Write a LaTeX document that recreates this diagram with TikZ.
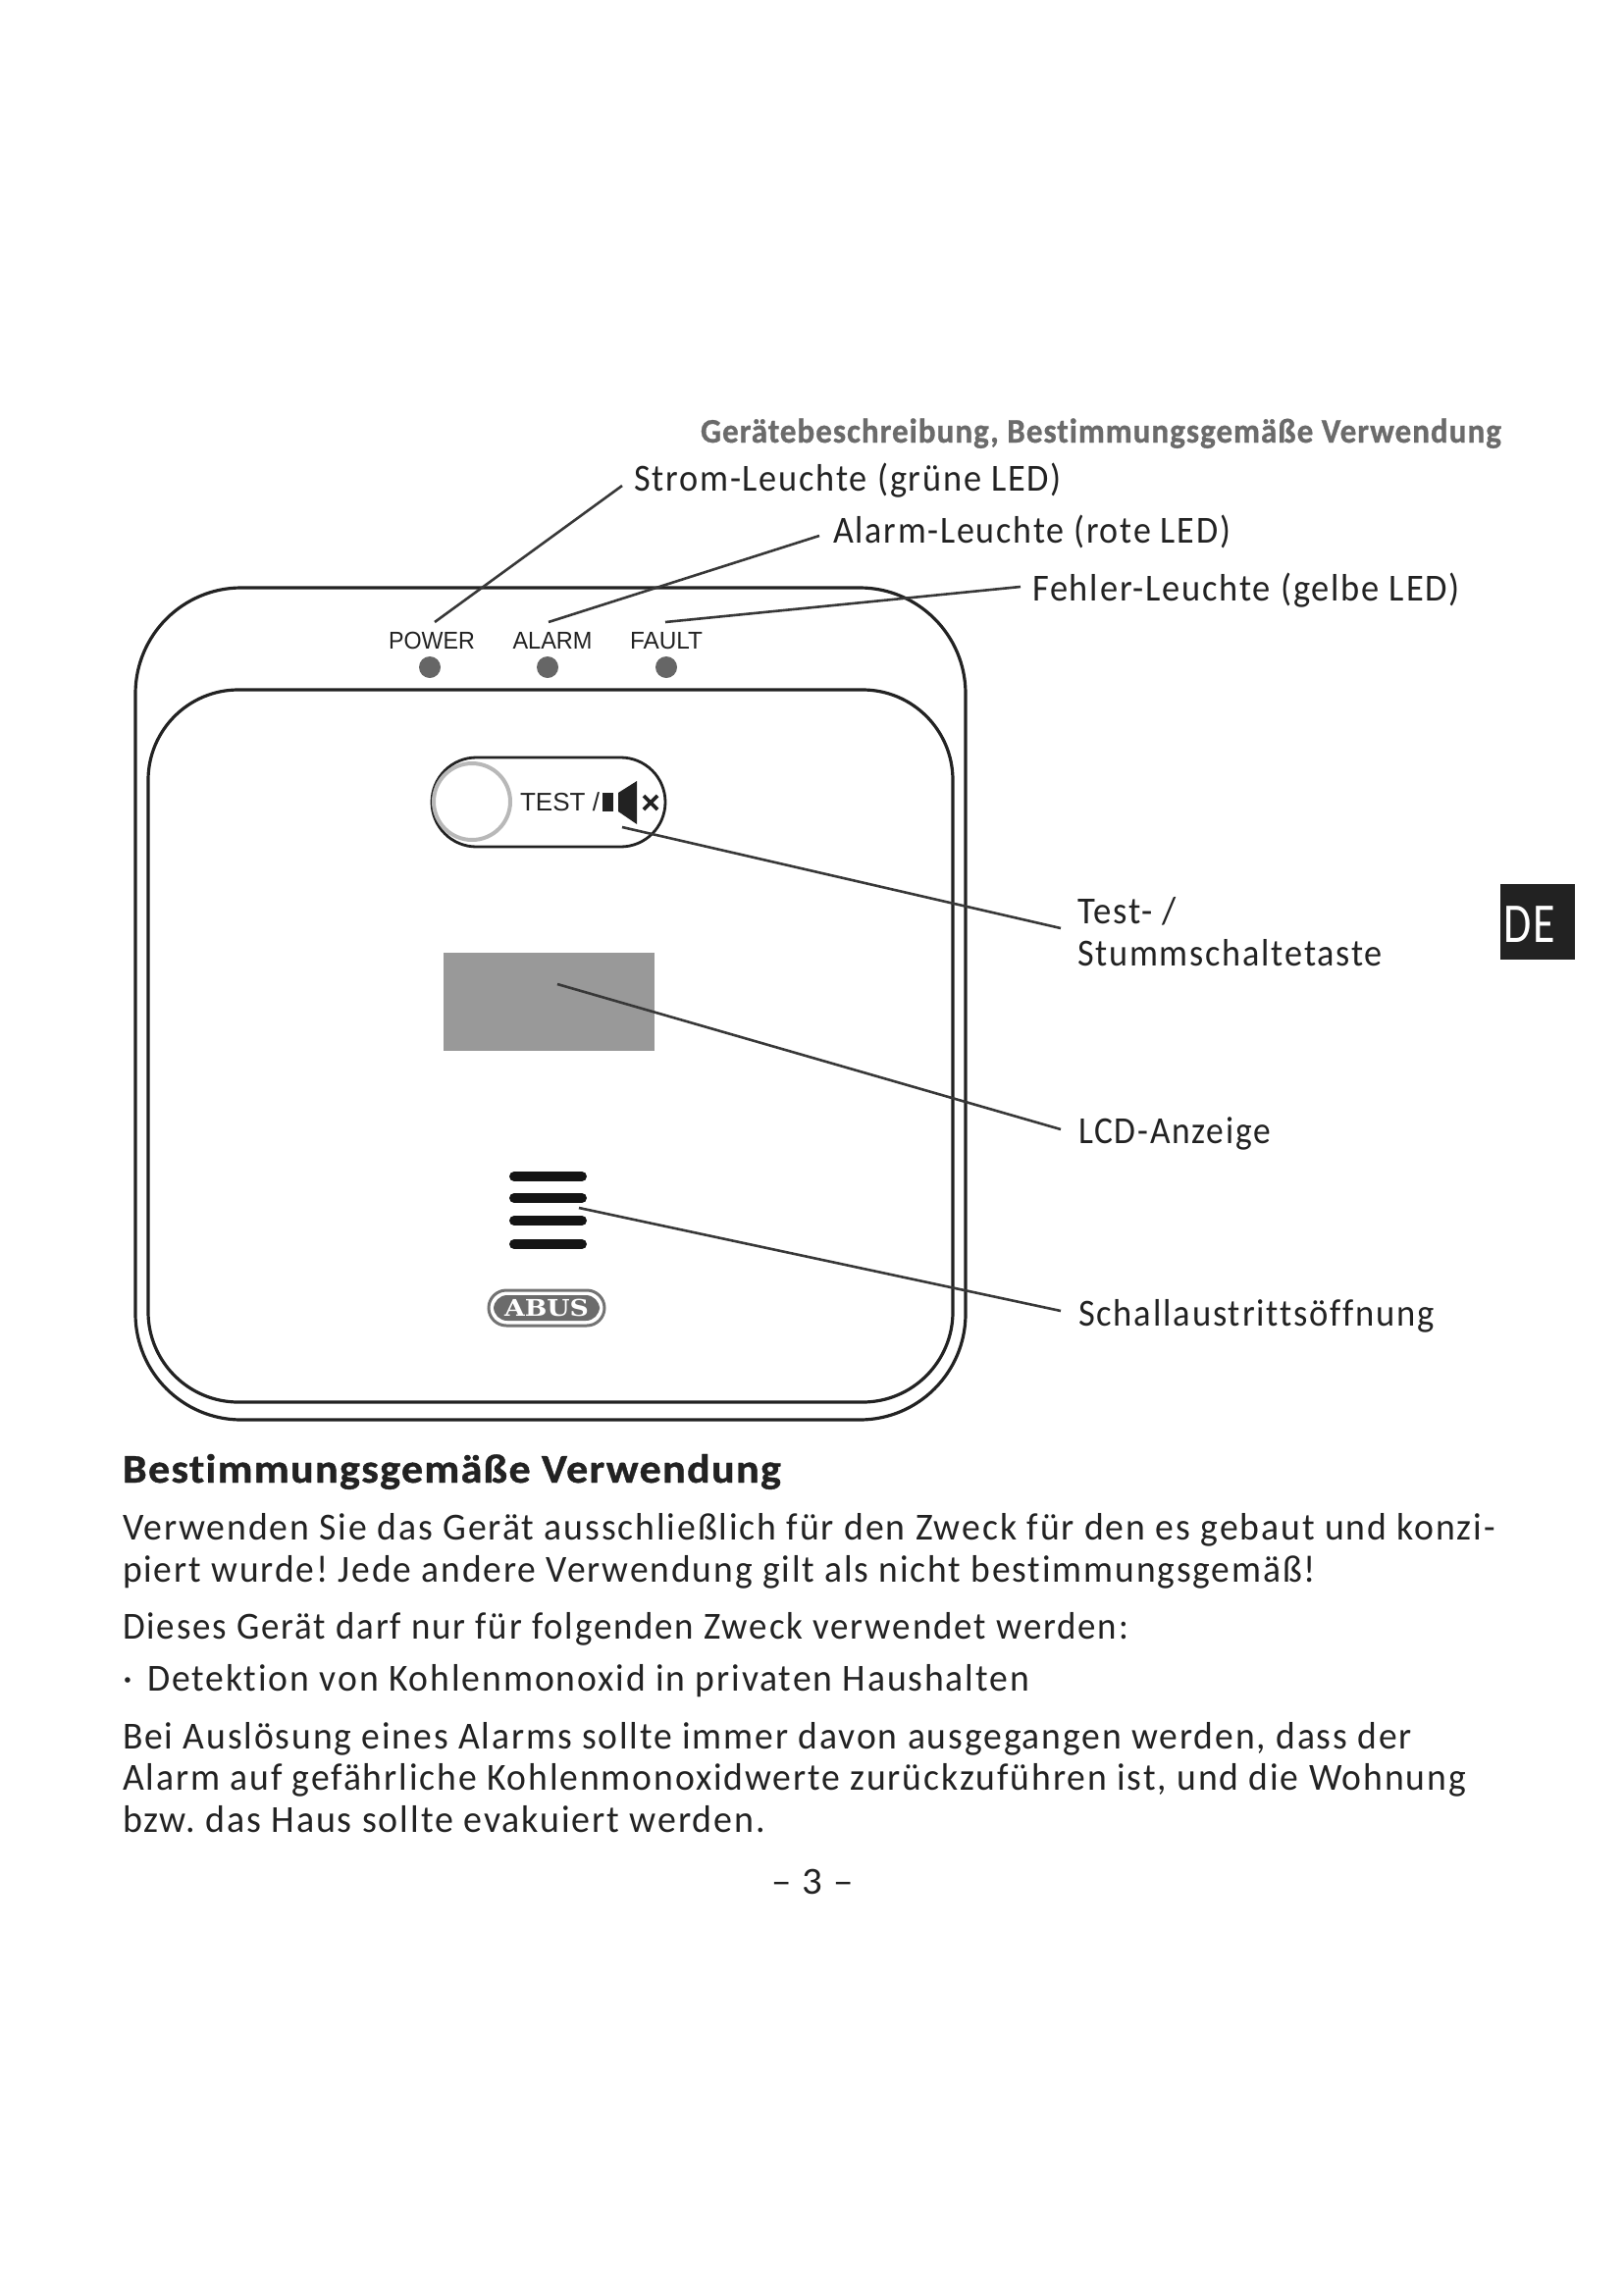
\documentclass[tikz,border=0pt]{standalone}
\usepackage{graphicx}
\usepackage{fontspec}
\setmainfont[LetterSpace=5,Ligatures=NoCommon,BoldFeatures={LetterSpace=3,FakeBold=0.9}]{Carlito}
\newfontfamily\arialf{Liberation Sans}
\newfontfamily\logof{DejaVu Serif}
\usetikzlibrary{calc}
\frenchspacing
\newsavebox\fitbx
% #1 = target width in reference pixels, #2 = text
\newcommand\fitw[2]{\sbox\fitbx{#2}\pgfmathsetmacro\fitr{#1*0.5/\wd\fitbx}\scalebox{\fitr}[1]{\usebox\fitbx}}
\definecolor{ink}{HTML}{222222}
\tikzset{
  x=0.5pt,y=-0.5pt,
  txt/.style={anchor=base west,inner sep=0,outer sep=0,text=ink,font=\fontsize{19.5}{22}\selectfont},
  head/.style={txt,font=\fontsize{20.7}{24}\selectfont\bfseries},
  hdr/.style={txt,text=black!58,font=\fontsize{17.5}{20}\selectfont\bfseries},
  dev/.style={anchor=center,inner sep=0,outer sep=0,text=ink,font=\arialf\fontsize{12.4}{14}\selectfont},
  case/.style={draw=ink,line width=1.6pt},
  leader/.style={draw=ink!90,line width=1.3pt},
  led/.style={circle,fill=black!60,draw=none,minimum size=11pt,inner sep=0},
  bar/.style={draw=black!92,line width=5pt,line cap=round},
}
\begin{document}
\begin{tikzpicture}
\useasboundingbox (0,0) rectangle (1654,2339);
% housing
\draw[case,rounded corners=54pt] (138,599) rectangle (984,1447);
\draw[case,rounded corners=46pt] (151,703) rectangle (971,1429);
% LEDs
\node[dev] (lpower) at (440,653) {\fitw{88}{POWER}};
\node[dev] (lalarm) at (563,653) {\fitw{81}{ALARM}};
\node[dev] (lfault) at (679,653) {\fitw{74}{FAULT}};
\node[led] (power) at (438,680) {};
\node[led] (alarm) at (558,680) {};
\node[led] (fault) at (679,680) {};
% test button
\draw[draw=ink,line width=1.4pt,rounded corners=22.75pt] (440,772) rectangle (678,863);
\node[circle,draw=black!28,line width=2pt,minimum size=39pt,inner sep=0] (btn) at (481,817) {};
\node[dev,anchor=base west,font=\arialf\fontsize{13}{14}\selectfont] (testl) at (530,826) {\fitw{81}{TEST /}};
\fill[ink] (614,808) rectangle (625,827);
\fill[ink] (630,808) -- (649,796) -- (649,840) -- (630,827) -- cycle;
\draw[ink,line width=1.9pt] (656,811) -- (670,825) (670,811) -- (656,825);
% LCD
\node[fill=black!40,draw=none,minimum width=107.5pt,minimum height=50pt,inner sep=0] (lcd) at (559.5,1020.5) {};
% sound opening
\draw[bar] (524,1199) -- (593,1199);
\draw[bar] (524,1221) -- (593,1221);
\draw[bar] (524,1244) -- (593,1244);
\draw[bar] (524,1268) -- (593,1268);
% logo
\draw[draw=black!55,line width=1.5pt,rounded corners=9pt] (498,1315) rectangle (616,1351);
\fill[black!58,rounded corners=7pt] (503,1320) rectangle (611,1346);
\node[inner sep=0,text=white,font=\logof\fontsize{11.7}{12}\selectfont\bfseries] (abus) at (557,1333) {\fitw{86}{ABUS}};
% callout labels
\node[hdr] (hdr) at (714,451) {\fitw{816}{Gerätebeschreibung, Bestimmungsgemäße Verwendung}};
\node[txt] (ts) at (646,500) {\fitw{436}{Strom-Leuchte (grüne LED)}};
\node[txt] (ta) at (849,553) {\fitw{405}{Alarm-Leuchte (rote LED)}};
\node[txt] (tf) at (1052,612) {\fitw{436}{Fehler-Leuchte (gelbe LED)}};
\node[txt] (tt1) at (1098,941) {\fitw{101}{Test- /}};
\node[txt] (tt2) at (1098,984) {\fitw{311}{Stummschaltetaste}};
\node[txt] (tl) at (1099,1165) {\fitw{196}{LCD-Anzeige}};
\node[txt] (tsa) at (1099,1351) {\fitw{363}{Schallaustrittsöffnung}};
% leaders
\coordinate (cs0) at (634,495); \coordinate (cs1) at (443,634);
\coordinate (ca0) at (835,546); \coordinate (ca1) at (559,634);
\coordinate (cf0) at (1040,598); \coordinate (cf1) at (678,634);
\coordinate (ct0) at (1081,946); \coordinate (ct1) at (634,843);
\coordinate (cl0) at (1081,1151); \coordinate (cl1) at (568,1003);
\coordinate (cx0) at (1081,1336); \coordinate (cx1) at (590,1231);
\draw[leader] (cs0) -- (cs1);
\draw[leader] (ca0) -- (ca1);
\draw[leader] (cf0) -- (cf1);
\draw[leader] (ct0) -- (ct1);
\draw[leader] (cl0) -- (cl1);
\draw[leader] (cx0) -- (cx1);
% DE tab
\node[fill=ink,minimum width=38pt,minimum height=38.5pt,inner sep=0] (detab) at (1567,939.5) {};
\node[anchor=base west,inner sep=0,text=white,font=\fontsize{28.7}{30}\selectfont] (de) at (1532,960) {\fitw{53}{DE}};
% body
\node[head] (h) at (125,1511) {\fitw{671}{Bestimmungsgemäße Verwendung}};
\node[txt] (b1) at (125,1569) {\fitw{1399}{Verwenden Sie das Gerät ausschließlich für den Zweck für den es gebaut und konzi-}};
\node[txt] (b2) at (125,1612) {\fitw{1216}{piert wurde! Jede andere Verwendung gilt als nicht bestimmungsgemäß!}};
\node[txt] (b3) at (125,1670) {\fitw{1025}{Dieses Gerät darf nur für folgenden Zweck verwendet werden:}};
\node[txt] (b4) at (125,1723) {\makebox[12.5pt][l]{·}\fitw{899}{Detektion von Kohlenmonoxid in privaten Haushalten}};
\node[txt] (b5) at (125,1782) {\fitw{1314}{Bei Auslösung eines Alarms sollte immer davon ausgegangen werden, dass der}};
\node[txt] (b6) at (125,1824) {\fitw{1369}{Alarm auf gefährliche Kohlenmonoxidwerte zurückzuführen ist, und die Wohnung}};
\node[txt] (b7) at (125,1867) {\fitw{655}{bzw. das Haus sollte evakuiert werden.}};
\node[txt] (pg) at (786,1930) {\fitw{84}{– 3 –}};
\end{tikzpicture}
\end{document}
